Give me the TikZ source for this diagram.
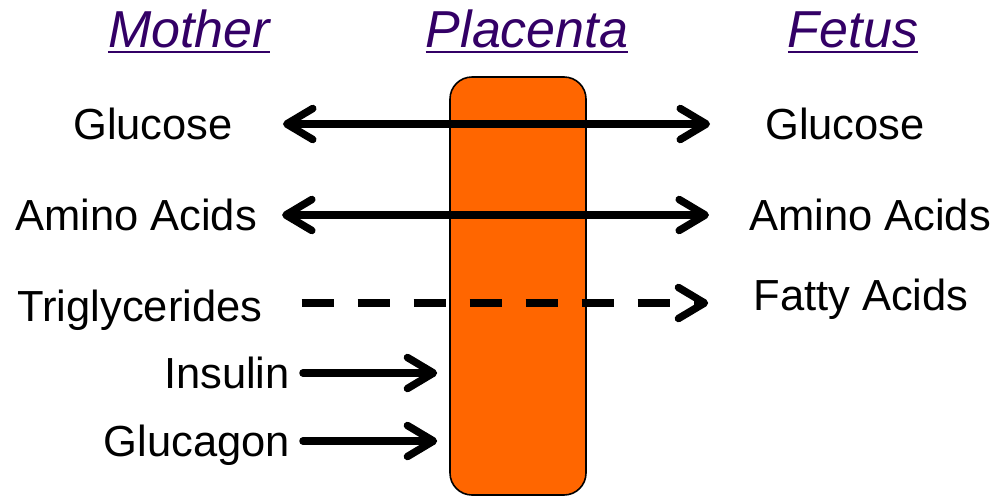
\documentclass[tikz,border=0pt]{standalone}
\usepackage{fontspec}
\setmainfont{Liberation Sans}
\usetikzlibrary{arrows.meta,calc}
\definecolor{PlacentaOrange}{RGB}{255,102,0}
\definecolor{TitlePurple}{RGB}{51,0,102}
\colorlet{InkBlack}{black}

\begin{document}
\begin{tikzpicture}[x=1pt,y=-1pt,
    title/.style={font=\fontsize{52}{60}\selectfont\itshape,text=TitlePurple,
      inner sep=0pt,text height=38pt,text depth=0pt},
    uline/.style={draw=TitlePurple,line width=2pt},
    label/.style={font=\fontsize{43.5}{50}\selectfont,text=InkBlack,
      inner sep=0pt,text height=31.5pt,text depth=0pt},
    flow/.style={line width=7.5pt,InkBlack,line cap=round,
      -{Straight Barb[length=26pt,width=31pt,line cap=round,line join=round]}},
    twoway/.style={flow,{Straight Barb[length=26pt,width=31pt,line cap=round,line join=round]}-{Straight Barb[length=26pt,width=31pt,line cap=round,line join=round]}},
    dashflow/.style={flow,line cap=butt,dash pattern=on 32pt off 24pt}
  ]
    \useasboundingbox (0,0) rectangle (996,496);

    \node[rounded corners=22pt,minimum width=136pt,minimum height=418pt,
      fill=PlacentaOrange,draw=InkBlack,line width=1.6pt] (placenta) at (518,286) {};

    \node[title] (mother) at (189,28) {Mother};
    \node[title] (plac) at (527,28) {Placenta};
    \node[title] (fetus) at (853,28) {Fetus};
    \foreach \t in {mother,plac,fetus}
      \draw[uline] ([yshift=-5pt]\t.south west) -- ([yshift=-5pt]\t.south east);

    \node[label] (mglucose) at (153,124) {Glucose};
    \node[label] (fglucose) at (845,124) {Glucose};
    \node[label] (mamino) at (136,215) {Amino Acids};
    \node[label] (famino) at (870,215) {Amino Acids};
    \node[label] (trig) at (140,306) {Triglycerides};
    \node[label] (fatty) at (861,295) {Fatty Acids};
    \node[label,anchor=east] (insulin) at (290,373) {Insulin};
    \node[label,anchor=east] (glucagon) at (290,441) {Glucagon};

    \draw[twoway,shorten <=50pt,shorten >=55pt] (mglucose.east) -- (fglucose.west);
    \draw[twoway,shorten <=25pt,shorten >=40pt] (mamino.east) -- (famino.west);
    \draw[dashflow,shorten <=39pt,shorten >=45pt]
      ([yshift=3pt]trig.east) -- ([yshift=3pt]trig.east -| fatty.west);
    \draw[flow,shorten <=13pt,shorten >=12pt] (insulin.east) -- (insulin.east -| placenta.west);
    \draw[flow,shorten <=13pt,shorten >=12pt] (glucagon.east) -- (glucagon.east -| placenta.west);
\end{tikzpicture}
\end{document}
